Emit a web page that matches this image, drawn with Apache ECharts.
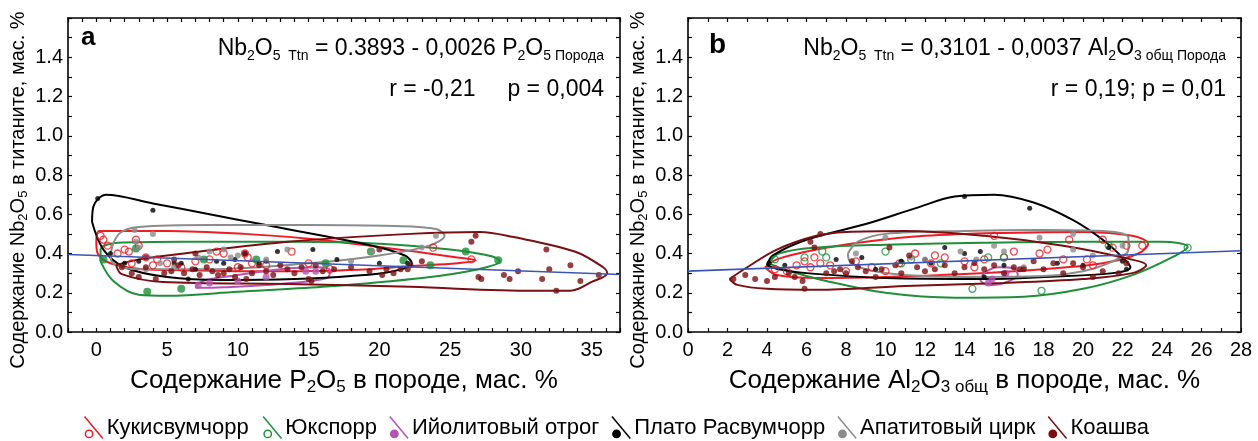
<!DOCTYPE html>
<html>
<head>
<meta charset="utf-8">
<title>Nb2O5 в титаните</title>
<script src="https://cdn.jsdelivr.net/npm/echarts@6/dist/echarts.min.js"></script>
<style>
  html, body { margin: 0; padding: 0; background: #fff; }
  #chart { width: 1258px; height: 441px; }
</style>
</head>
<body>
<div id="chart"></div>
<script>
const groupNames = ['Кукисвумчорр', 'Юкспорр', 'Ийолитовый отрог', 'Плато Расвумчорр', 'Апатитовый цирк', 'Коашва']
const groupColors = ['#ee1c25', '#1f8f3a', '#b455b4', '#000000', '#8c8c8c', '#7a0f12']

// axis ticks / labels
const xLabelsA = [0, 5, 10, 15, 20, 25, 30, 35]
const xTicksA = [-2, -1, 0, 1, 2, 3, 4, 5, 6, 7, 8, 9, 10, 11, 12, 13, 14, 15, 16, 17, 18, 19, 20, 21, 22, 23, 24, 25, 26, 27, 28, 29, 30, 31, 32, 33, 34, 35, 36, 37]
const xLabelsB = [0, 2, 4, 6, 8, 10, 12, 14, 16, 18, 20, 22, 24, 26, 28]
const xTicksB = [0, 1, 2, 3, 4, 5, 6, 7, 8, 9, 10, 11, 12, 13, 14, 15, 16, 17, 18, 19, 20, 21, 22, 23, 24, 25, 26, 27, 28]
const yLabels = [0, 0.2, 0.4, 0.6, 0.8, 1.0, 1.2, 1.4]
const yTicks = [0, 0.1, 0.2, 0.3, 0.4, 0.5, 0.6, 0.7, 0.8, 0.9, 1.0, 1.1, 1.2, 1.3, 1.4, 1.5, 1.6]

// panel a: P2O5 в породе vs Nb2O5 в титаните
const kukisA = [[0.3, 0.49], [0.5, 0.47], [0.8, 0.44], [2, 0.42], [2.3, 0.41], [2.8, 0.47], [3, 0.44], [3.5, 0.38], [4.3, 0.37], [5, 0.35], [4, 0.34], [8, 0.37], [8.5, 0.41], [9, 0.40], [10.5, 0.40], [10.7, 0.38], [11, 0.35], [10, 0.33], [13.8, 0.41], [15, 0.35], [16.5, 0.32], [23.8, 0.43], [26.5, 0.37], [6, 0.33], [2.5, 0.35], [1.5, 0.40], [7, 0.36], [12, 0.34]]
const yuksA = [[3.6, 0.205], [6, 0.22], [2.8, 0.425], [0.5, 0.37], [7.6, 0.37], [11.3, 0.37], [16.2, 0.35], [19.4, 0.41], [23.6, 0.34], [26.1, 0.41], [28.4, 0.365], [21.7, 0.365]]
const ijolA = [[7.2, 0.24], [8, 0.25], [10, 0.26], [14.8, 0.31], [15.5, 0.31], [12, 0.28]]
const rasvA = [[0.1, 0.68], [4, 0.62], [1, 0.40], [2, 0.35], [3, 0.36], [5.5, 0.35], [6.5, 0.27], [6, 0.35], [7, 0.32], [8.5, 0.36], [9.8, 0.37], [10.5, 0.40], [11.5, 0.35], [12.8, 0.41], [15.3, 0.42], [17, 0.37], [20, 0.35], [22, 0.35], [12, 0.36], [9, 0.35]]
const apatA = [[2.7, 0.52], [4, 0.50], [2.8, 0.46], [3, 0.43], [3.5, 0.32], [4.5, 0.35], [8, 0.41], [9, 0.42], [9.5, 0.38], [10, 0.39], [13.5, 0.42], [19.5, 0.41], [23, 0.43], [24, 0.49], [7.2, 0.38], [5.5, 0.33], [12, 0.37], [18, 0.36]]
const koashA = [[1.8, 0.33], [2.5, 0.30], [3, 0.28], [3.5, 0.33], [4.2, 0.27], [4.8, 0.30], [5.3, 0.31], [5.8, 0.34], [6.2, 0.30], [6.8, 0.32], [7.3, 0.29], [7.8, 0.33], [8.2, 0.31], [8.6, 0.29], [9, 0.30], [9.4, 0.32], [9.8, 0.28], [10.2, 0.33], [10.6, 0.27], [11, 0.30], [11.5, 0.34], [12, 0.31], [12.5, 0.29], [13, 0.34], [13.5, 0.32], [14, 0.30], [14.5, 0.33], [15, 0.27], [15.5, 0.34], [16, 0.31], [16.8, 0.32], [15.2, 0.26], [19.3, 0.31], [20, 0.42], [20.5, 0.32], [21, 0.30], [21.5, 0.32], [22.2, 0.34], [23, 0.36], [20.2, 0.29], [26.5, 0.46], [26.8, 0.49], [27, 0.28], [27.2, 0.27], [28.8, 0.29], [29.2, 0.27], [29.8, 0.31], [31.5, 0.27], [31.8, 0.42], [32, 0.32], [32.5, 0.21], [33.5, 0.34], [34.2, 0.26], [35.5, 0.29], [7, 0.40], [5.5, 0.37], [10.5, 0.40], [3.5, 0.38], [18, 0.33], [22, 0.32]]

const kukisAContour = [[0, 0.46], [0.2, 0.515], [5, 0.515], [10.5, 0.50], [15, 0.475], [19.3, 0.44], [23, 0.405], [25.5, 0.38], [26.8, 0.365], [25.5, 0.35], [22, 0.335], [19.3, 0.32], [14, 0.31], [10.5, 0.31], [6, 0.315], [3.3, 0.32], [1, 0.35], [0.1, 0.40], [0, 0.46]]
const yuksAContour = [[0.3, 0.36], [0.3, 0.42], [1.5, 0.455], [6, 0.46], [14, 0.46], [20, 0.45], [25, 0.42], [28, 0.385], [28.5, 0.36], [27, 0.32], [23, 0.275], [16, 0.23], [10, 0.205], [5, 0.185], [3, 0.19], [1.2, 0.26], [0.3, 0.36]]
const ijolAContour = [[7, 0.225], [7.5, 0.26], [10, 0.29], [13, 0.32], [15.5, 0.33], [16.5, 0.315], [16.3, 0.275], [13, 0.245], [9, 0.228], [7, 0.225]]
const rasvAContour = [[-0.3, 0.56], [-0.2, 0.64], [0.7, 0.70], [4, 0.655], [8, 0.60], [12, 0.545], [16, 0.49], [19.5, 0.44], [21.8, 0.39], [22.3, 0.35], [21, 0.31], [18, 0.285], [14, 0.27], [9, 0.265], [5, 0.28], [2, 0.33], [0.5, 0.42], [-0.3, 0.56]]
const apatAContour = [[1, 0.40], [1.6, 0.50], [3, 0.535], [8, 0.545], [15, 0.545], [21, 0.54], [24, 0.525], [24.6, 0.49], [23.5, 0.44], [20, 0.39], [15, 0.35], [8, 0.32], [3, 0.32], [1.2, 0.35], [1, 0.40]]
const koashAContour = [[1.4, 0.34], [3, 0.37], [6.2, 0.40], [13.5, 0.46], [22.2, 0.50], [27.1, 0.51], [29.4, 0.485], [33.8, 0.41], [35.8, 0.33], [36.1, 0.30], [35, 0.255], [33.5, 0.21], [30.9, 0.21], [22.2, 0.23], [13.5, 0.245], [4.7, 0.255], [1.8, 0.295], [1.4, 0.34]]
const trendA = [[-2, 0.395], [37, 0.293]]

// panel b: Al2O3 общ в породе vs Nb2O5 в титаните
const kukisB = [[4.4, 0.32], [5, 0.31], [5.9, 0.36], [6.2, 0.33], [6.7, 0.35], [7.2, 0.34], [8, 0.31], [8.5, 0.36], [9.3, 0.33], [10, 0.31], [10.7, 0.35], [11.5, 0.40], [12.5, 0.39], [13, 0.38], [14, 0.36], [14.5, 0.33], [15, 0.37], [16, 0.38], [16.5, 0.41], [17.8, 0.40], [18.2, 0.42], [19, 0.37], [19.3, 0.47], [20.2, 0.37], [21, 0.47], [21.5, 0.43], [22.2, 0.44], [23, 0.44], [15.5, 0.49], [12.3, 0.35], [5.5, 0.34], [6.4, 0.38], [20.5, 0.34]]
const yuksB = [[4.4, 0.37], [5.9, 0.38], [6.8, 0.41], [7, 0.38], [10, 0.41], [10.8, 0.35], [11.3, 0.37], [12.8, 0.35], [15.2, 0.38], [16, 0.38], [14.4, 0.22], [17.9, 0.21], [25.3, 0.43], [21.3, 0.44]]
const ijolB = [[15.2, 0.25], [15.4, 0.27], [16.1, 0.30]]
const rasvB = [[4.1, 0.35], [4.9, 0.34], [7.5, 0.37], [8.8, 0.38], [10.8, 0.36], [12.3, 0.35], [13, 0.43], [14, 0.40], [14.8, 0.41], [15, 0.28], [16, 0.34], [14, 0.69], [17.3, 0.63], [18.7, 0.35], [20, 0.34], [21.3, 0.43], [22, 0.36], [22.2, 0.32], [12, 0.37], [9.5, 0.32]]
const apatB = [[10, 0.48], [12, 0.37], [13.8, 0.41], [15.5, 0.44], [16, 0.41], [17.8, 0.48], [19.5, 0.50], [19.5, 0.42], [22, 0.44], [11.3, 0.38], [8.5, 0.40], [14.6, 0.37], [17, 0.33], [20.5, 0.39]]
const koashB = [[2.3, 0.27], [2.9, 0.29], [3.4, 0.27], [4, 0.26], [4.4, 0.28], [5.1, 0.30], [5.4, 0.28], [5.8, 0.26], [5.9, 0.22], [6.2, 0.46], [6.4, 0.43], [6.7, 0.50], [7, 0.30], [7.4, 0.31], [7.7, 0.32], [8, 0.30], [8.3, 0.36], [8.6, 0.33], [9, 0.31], [9.5, 0.28], [9.8, 0.32], [10.2, 0.43], [10.5, 0.34], [10.8, 0.30], [11.2, 0.39], [11.6, 0.33], [12, 0.31], [12.5, 0.32], [13, 0.34], [13.5, 0.30], [14, 0.33], [14.5, 0.35], [15, 0.32], [15.5, 0.34], [16, 0.30], [16.5, 0.33], [17, 0.32], [17.5, 0.36], [18, 0.32], [18.5, 0.35], [19, 0.30], [19.5, 0.35], [20, 0.33], [20.5, 0.28], [21, 0.31], [21.8, 0.30], [22.2, 0.35], [16.8, 0.32]]

const kukisBContour = [[3.9, 0.33], [4.5, 0.37], [6.5, 0.42], [9, 0.46], [12, 0.49], [16, 0.505], [20, 0.51], [22.5, 0.49], [23.3, 0.45], [22.8, 0.40], [21, 0.35], [18, 0.32], [14, 0.295], [10, 0.28], [6.5, 0.275], [4.5, 0.29], [3.9, 0.33]]
const yuksBContour = [[4.1, 0.35], [4.6, 0.40], [6.5, 0.43], [10, 0.445], [15, 0.455], [20, 0.46], [24, 0.46], [25.3, 0.435], [24.5, 0.38], [22.5, 0.29], [20, 0.22], [17, 0.18], [13.5, 0.175], [10, 0.2], [7, 0.26], [5, 0.315], [4.1, 0.35]]
const ijolBContour = [[14.8, 0.26], [15, 0.30], [15.7, 0.33], [16.5, 0.325], [16.7, 0.29], [16, 0.25], [15.2, 0.24], [14.8, 0.26]]
const rasvBContour = [[4, 0.34], [4.3, 0.39], [6, 0.47], [9, 0.55], [11.5, 0.63], [13.5, 0.69], [15.5, 0.70], [17.5, 0.66], [19.5, 0.57], [21, 0.47], [22, 0.38], [22.4, 0.33], [21.5, 0.30], [18, 0.28], [15, 0.27], [10, 0.275], [6, 0.30], [4.6, 0.32], [4, 0.34]]
const apatBContour = [[8.1, 0.40], [8.6, 0.46], [10, 0.50], [14, 0.515], [18, 0.52], [21, 0.515], [22.3, 0.48], [22.3, 0.42], [21.5, 0.36], [20, 0.31], [18, 0.285], [14, 0.28], [11, 0.29], [9, 0.32], [8.2, 0.36], [8.1, 0.40]]
const koashBContour = [[2.1, 0.27], [3, 0.33], [4.5, 0.42], [6.5, 0.49], [8, 0.51], [11, 0.515], [15, 0.49], [19, 0.44], [22, 0.38], [23.2, 0.34], [22.5, 0.30], [20, 0.27], [16, 0.25], [11, 0.235], [6.5, 0.215], [4, 0.22], [2.5, 0.24], [2.1, 0.27]]
const trendB = [[0, 0.31], [28, 0.414]]

const pointsA = [kukisA, yuksA, ijolA, rasvA, apatA, koashA]
const contoursA = [kukisAContour, yuksAContour, ijolAContour, rasvAContour, apatAContour, koashAContour]
const pointsB = [kukisB, yuksB, ijolB, rasvB, apatB, koashB]
const contoursB = [kukisBContour, yuksBContour, ijolBContour, rasvBContour, apatBContour, koashBContour]

const font = 'Liberation Sans'
const sub = { fontFamily: font, fontSize: 14, lineHeight: 12, verticalAlign: 'bottom' }

// open markers: Кукисвумчорр everywhere, Юкспорр only on panel b
function pointStyle(i, panel) {
  const open = i === 0 || (i === 1 && panel === 'b')
  const sizes = [7, panel === 'a' ? 8 : 7, 7, 5, 6, 6]
  return {
    symbolSize: sizes[i],
    itemStyle: open
      ? { color: 'none', borderColor: groupColors[i], borderWidth: 1.3 }
      : { color: groupColors[i] }
  }
}

function buildSeries(points, contours, trend, axisIndex, panel) {
  const list = []
  contours.forEach((c, i) => {
    list.push({
      name: groupNames[i],
      type: 'line',
      xAxisIndex: axisIndex,
      yAxisIndex: axisIndex,
      data: c,
      smooth: 0.35,
      symbol: 'none',
      lineStyle: { color: groupColors[i], width: 2 },
      z: 2
    })
  })
  points.forEach((p, i) => {
    const st = pointStyle(i, panel)
    list.push({
      name: groupNames[i],
      type: 'scatter',
      xAxisIndex: axisIndex,
      yAxisIndex: axisIndex,
      data: p,
      symbolSize: st.symbolSize,
      itemStyle: st.itemStyle,
      z: 3
    })
  })
  list.push({
    type: 'line',
    xAxisIndex: axisIndex,
    yAxisIndex: axisIndex,
    data: trend,
    symbol: 'none',
    lineStyle: { color: '#3a55b4', width: 1.6 },
    z: 4
  })
  return list
}

const frameLine = { show: true, onZero: false, lineStyle: { color: '#000', width: 1.6 } }

function xAxisPair(gridIndex, min, max, labels, ticks, name) {
  return [
    {
      type: 'value', gridIndex: gridIndex, min: min, max: max, position: 'bottom',
      axisLine: frameLine,
      axisTick: { show: true, inside: true, length: 4, customValues: ticks, lineStyle: { color: '#000', width: 1.2 } },
      axisLabel: { customValues: labels, color: '#000', fontSize: 20, fontFamily: font, margin: 8 },
      splitLine: { show: false },
      name: name,
      nameLocation: 'middle',
      nameGap: 34,
      nameTextStyle: {
        color: '#000', fontSize: 26, fontFamily: font, lineHeight: 30,
        rich: { s: { fontFamily: font, fontSize: 17, lineHeight: 16, verticalAlign: 'bottom', color: '#000' } }
      }
    },
    {
      type: 'value', gridIndex: gridIndex, min: min, max: max, position: 'top',
      axisLine: frameLine,
      axisTick: { show: true, inside: true, length: 4, customValues: ticks, lineStyle: { color: '#000', width: 1.2 } },
      axisLabel: { show: false },
      splitLine: { show: false }
    }
  ]
}

function yAxisPair(gridIndex) {
  return [
    {
      type: 'value', gridIndex: gridIndex, min: 0, max: 1.6, position: 'left',
      axisLine: frameLine,
      axisTick: { show: true, inside: true, length: 4, customValues: yTicks, lineStyle: { color: '#000', width: 1.2 } },
      axisLabel: { customValues: yLabels, color: '#000', fontSize: 20, fontFamily: font, margin: 5, formatter: v => v.toFixed(1) },
      splitLine: { show: false },
      name: 'Содержание Nb{s|2}O{s|5} в титаните, мас. %',
      nameLocation: 'middle',
      nameGap: 38,
      nameTextStyle: {
        color: '#000', fontSize: 20, fontFamily: font, lineHeight: 24, padding: [0, 30, 0, 0],
        rich: { s: { fontFamily: font, fontSize: 13, lineHeight: 12, verticalAlign: 'bottom', color: '#000' } }
      }
    },
    {
      type: 'value', gridIndex: gridIndex, min: 0, max: 1.6, position: 'right',
      axisLine: frameLine,
      axisTick: { show: true, inside: true, length: 4, customValues: yTicks, lineStyle: { color: '#000', width: 1.2 } },
      axisLabel: { show: false },
      splitLine: { show: false }
    }
  ]
}

function eqText(x, y, text) {
  return {
    type: 'text',
    x: x,
    y: y,
    style: {
      text: text,
      fontFamily: font,
      fontSize: 23,
      lineHeight: 28,
      fill: '#000',
      align: 'right',
      verticalAlign: 'middle',
      rich: { s: sub }
    }
  }
}

const legendIconOpen = 'path://M2,0L22,24M11,19A4,4,0,1,1,3,19A4,4,0,1,1,11,19Z'

const chart = echarts.init(document.getElementById('chart'))
chart.setOption({
  animation: false,
  textStyle: { fontFamily: font },
  grid: [
    { left: 68, top: 18, width: 552, height: 314, outerBoundsMode: 'none' },
    { left: 688, top: 18, width: 553, height: 314, outerBoundsMode: 'none' }
  ],
  xAxis: [
    ...xAxisPair(0, -2, 37, xLabelsA, xTicksA, 'Содержание P{s|2}O{s|5} в породе, мас. %'),
    ...xAxisPair(1, 0, 28, xLabelsB, xTicksB, 'Содержание Al{s|2}O{s|3 общ} в породе, мас. %')
  ],
  yAxis: [...yAxisPair(0), ...yAxisPair(1)],
  legend: {
    left: 82,
    top: 414,
    padding: 0,
    itemGap: 12,
    itemWidth: 20,
    itemHeight: 22,
    textStyle: { fontSize: 22, fontFamily: font, color: '#000', padding: [0, 0, 0, -2] },
    data: groupNames.map((n, i) => ({
      name: n,
      icon: legendIconOpen,
      itemStyle: i < 2
        ? { color: 'none', borderColor: groupColors[i], borderWidth: 1.5 }
        : { color: groupColors[i], borderColor: groupColors[i], borderWidth: 1.5 }
    }))
  },
  graphic: [
    { type: 'text', x: 81, y: 38, style: { text: 'a', fontFamily: font, fontSize: 26, fontWeight: 'bold', fill: '#000', verticalAlign: 'middle' } },
    { type: 'text', x: 709, y: 45, style: { text: 'b', fontFamily: font, fontSize: 28, fontWeight: 'bold', fill: '#000', verticalAlign: 'middle' } },
    eqText(604, 49, 'Nb{s|2}O{s|5  Ttn} = 0.3893 - 0,0026 P{s|2}O{s|5 Порода}'),
    eqText(604, 90, 'r = -0,21     p = 0,004'),
    eqText(1226, 49, 'Nb{s|2}O{s|5  Ttn} = 0,3101 - 0,0037 Al{s|2}O{s|3 общ Порода}'),
    eqText(1226, 90, 'r = 0,19; p = 0,01')
  ],
  series: [
    ...buildSeries(pointsA, contoursA, trendA, 0, 'a'),
    ...buildSeries(pointsB, contoursB, trendB, 2, 'b')
  ]
})
</script>
</body>
</html>
